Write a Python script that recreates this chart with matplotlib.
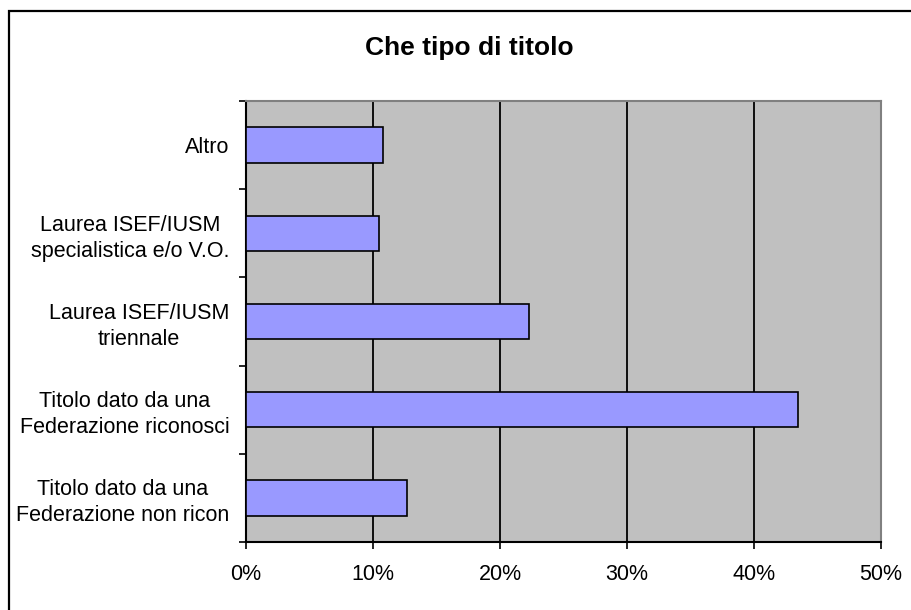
import matplotlib.pyplot as plt
from matplotlib.patches import Rectangle
from matplotlib.ticker import FixedLocator, PercentFormatter

plt.rcParams['font.family'] = ['Liberation Sans', 'DejaVu Sans']

categories = ['Altro',
              'Laurea ISEF/IUSM\nspecialistica e/o V.O.',
              'Laurea ISEF/IUSM\ntriennale',
              'Titolo dato da una\nFederazione riconosci',
              'Titolo dato da una\nFederazione non ricon']
values = [10.8, 10.5, 22.3, 43.5, 12.7]
xticks = [0, 10, 20, 30, 40, 50]

fig = plt.figure(figsize=(9.12, 6.10), dpi=100)
ax = fig.add_axes([246/912, 1 - 542/610, 635/912, 441/610])

pos = list(range(len(categories)))
ax.barh(pos, values, height=0.4, color='#9999FF', edgecolor='black', linewidth=1.2, zorder=3)

ax.set_facecolor('#C0C0C0')
ax.set_xlim(0, 50)
ax.set_ylim(len(categories) - 0.5, -0.5)
ax.set_xticks(xticks)
ax.xaxis.set_major_formatter(PercentFormatter(decimals=0))
ax.grid(axis='x', color='black', linewidth=1.3, zorder=1)

ax.set_yticks(pos)
ax.set_yticklabels(categories, ha='right', multialignment='center', linespacing=1.3)
ax.yaxis.set_minor_locator(FixedLocator([p - 0.5 for p in pos] + [len(pos) - 0.5]))
ax.tick_params(axis='y', which='major', length=0, pad=12, labelsize=15.5)
ax.tick_params(axis='y', which='minor', length=5, width=1.2, color='black')
ax.tick_params(axis='x', length=5, width=1.2, pad=11, labelsize=15.5, direction='out')

for s in ['left', 'bottom']:
    ax.spines[s].set_color('black')
    ax.spines[s].set_linewidth(1.5)
for s in ['top', 'right']:
    ax.spines[s].set_color('#808080')
    ax.spines[s].set_linewidth(1.5)

fig.text(469/912, 1 - 48/610, 'Che tipo di titolo', ha='center', va='center',
         fontsize=19, fontweight='bold')

fig.patches.append(Rectangle((9.5/912, -0.1), 1.2, 1.1 - 10.5/610, transform=fig.transFigure,
                             fill=False, edgecolor='black', linewidth=1.6))

fig.savefig('out.png', dpi=100)
